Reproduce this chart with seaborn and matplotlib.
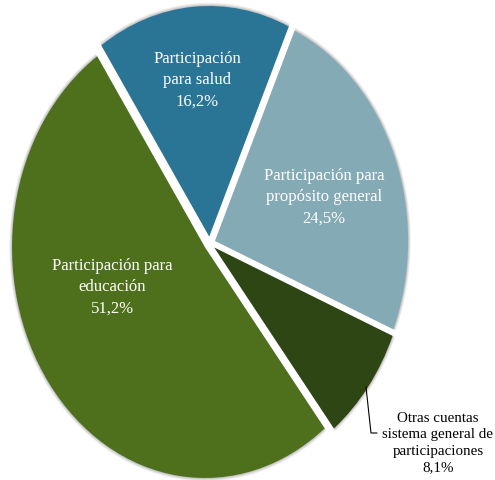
import matplotlib
matplotlib.use("Agg")
import matplotlib.pyplot as plt
import seaborn as sns

# Shares of the general participation system by component
categories = ["Participación para\neducación", "Participación\npara salud",
              "Participación para\npropósito general",
              "Otras cuentas\nsistema general de\nparticipaciones"]
shares = [51.2, 16.2, 24.5, 8.1]
colors = ["#4E701C", "#2A7596", "#84AAB5", "#2E4613"]

sns.set_theme(style="white")
plt.rcParams["font.family"] = ["Liberation Serif", "DejaVu Serif"]

W, H = 495, 481
fig = plt.figure(figsize=(W / 100, H / 100), dpi=100)

# pie centre and radii in pixels (the chart is taller than wide)
cx, cy, rx, ry = 209.7, 244.4, 193.0, 230.5
ax = fig.add_axes([(cx - rx) / W, 1 - (cy + ry) / H, 2 * rx / W, 2 * ry / H])

explode = [0.03] * len(shares)
start = -51.7

# soft grey halo under the wedges
for r, a in [(1.014, 0.10), (1.009, 0.14), (1.004, 0.18)]:
    ax.pie(shares, explode=explode, startangle=start, counterclock=False,
           radius=r, colors=["#606060"] * len(shares),
           wedgeprops=dict(linewidth=0, alpha=a, clip_on=False))

wedges, _ = ax.pie(shares, explode=explode, startangle=start, counterclock=False,
                   colors=colors, wedgeprops=dict(linewidth=0, clip_on=False))
ax.set_aspect("auto")
ax.set_xlim(-1, 1)
ax.set_ylim(-1, 1)
ax.axis("off")


def fmt(v):
    return f"{v:.1f}".replace(".", ",") + "%"


def px(x, y):
    return x / W, 1 - y / H


label_pos = [(112, 287), (197, 80), (324, 197), (438, 443)]
label_col = ["white", "white", "white", "black"]
label_size = [12, 12, 12, 10.8]
label_spacing = [1.45, 1.45, 1.45, 1.35]
for name, v, (x, y), c, s, ls in zip(categories, shares, label_pos, label_col,
                                     label_size, label_spacing):
    fx, fy = px(x, y)
    fig.text(fx, fy, f"{name}\n{fmt(v)}", ha="center", va="center",
             color=c, fontsize=s, linespacing=ls)

# leader line for the small slice
lx = [366 / W, 371 / W, 377 / W]
ly = [1 - 388 / H, 1 - 434 / H, 1 - 434 / H]
fig.add_artist(plt.Line2D(lx, ly, color="black", linewidth=0.8))

fig.savefig("out.png", dpi=100)
